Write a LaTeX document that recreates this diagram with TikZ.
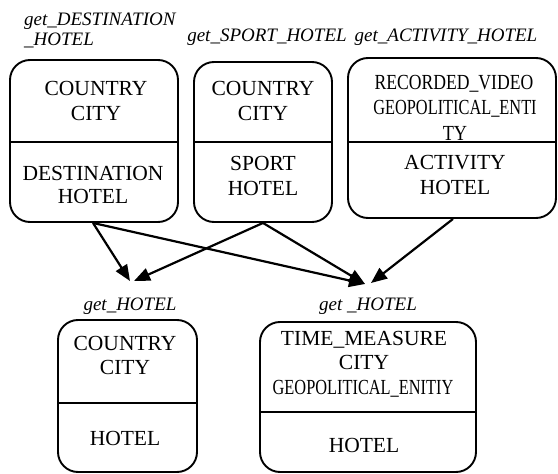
\documentclass[tikz,border=0pt]{standalone}
\usepackage{fontspec}
\usepackage{graphicx}
\setmainfont{Liberation Serif}
\usetikzlibrary{arrows.meta}
\tikzset{
  box/.style={draw, line width=1.9pt, rounded corners=20pt, inner sep=0pt},
  divider/.style={line width=1.9pt},
  txt/.style={anchor=base, inner sep=0pt, font=\fontsize{21.5}{25}\selectfont},
  lbl/.style={anchor=base, inner sep=0pt, font=\fontsize{19}{22}\selectfont\itshape},
  conn/.style={line width=2.2pt, -{Triangle[length=16pt,width=13pt]}}
}
\begin{document}
\begin{tikzpicture}[x=1pt,y=-1pt]
\path[use as bounding box] (0,0) rectangle (558,474);
% boxes
\node[box, minimum width=168pt, minimum height=162pt] (A) at (94,141) {};
\node[box, minimum width=138pt, minimum height=160pt] (B) at (263,142) {};
\node[box, minimum width=208pt, minimum height=160pt] (C) at (452,138) {};
\node[box, minimum width=139pt, minimum height=152pt] (D) at (127.5,396) {};
\node[box, minimum width=216pt, minimum height=150pt] (E) at (368,397) {};
% dividers
\draw[divider] (A.west |- 0,142) -- (A.east |- 0,142);
\draw[divider] (B.west |- 0,142) -- (B.east |- 0,142);
\draw[divider] (C.west |- 0,142) -- (C.east |- 0,142);
\draw[divider] (D.west |- 0,403) -- (D.east |- 0,403);
\draw[divider] (E.west |- 0,412) -- (E.east |- 0,412);
% labels
\node[lbl, anchor=base west] (lA1) at (24,25) {get\_DESTINATION};
\node[lbl, anchor=base west] (lA2) at (24,45) {\_HOTEL};
\node[lbl] (lB) at (267,41) {get\_SPORT\_HOTEL};
\node[lbl] (lC) at (446,41) {get\_ACTIVITY\_HOTEL};
\node[lbl] (lD) at (130,310) {get\_HOTEL};
\node[lbl] (lE) at (368,310) {get \_HOTEL};
% box A text
\node[txt] (a1) at (96,95) {COUNTRY};
\node[txt] (a2) at (96,120) {CITY};
\node[txt] (a3) at (93,180) {DESTINATION};
\node[txt] (a4) at (93,203) {HOTEL};
% box B text
\node[txt] (b1) at (263,95) {COUNTRY};
\node[txt] (b2) at (263,120) {CITY};
\node[txt] (b3) at (263,170) {SPORT};
\node[txt] (b4) at (263,195) {HOTEL};
% box C text
\node[txt] (c1) at (454,89) {\scalebox{0.82}[1]{RECORDED\_VIDEO}};
\node[txt] (c2) at (455,114) {\scalebox{0.76}[1]{GEOPOLITICAL\_ENTI}};
\node[txt] (c3) at (455,140) {\scalebox{0.85}[1]{TY}};
\node[txt] (c4) at (455,169) {ACTIVITY};
\node[txt] (c5) at (455,194) {HOTEL};
% box D text
\node[txt] (d1) at (125,350) {COUNTRY};
\node[txt] (d2) at (125,374) {CITY};
\node[txt] (d3) at (125,445) {HOTEL};
% box E text
\node[txt] (e1) at (364,345) {TIME\_MEASURE};
\node[txt] (e2) at (364,369) {CITY};
\node[txt] (e3) at (363,394) {\scalebox{0.76}[1]{GEOPOLITICAL\_ENITIY}};
\node[txt] (e4) at (364,452) {HOTEL};
% arrow end points
\coordinate (tD1) at (130,281);
\coordinate (tD2) at (134,281);
\coordinate (tE1) at (365,284);
\coordinate (tE2) at (371,283);
% connectors
\draw[conn] (A.south) ++(-1,0) -- (tD1);
\draw[conn] (A.south) ++(-1,0) -- (tE1);
\draw[conn] (B.south) -- (tD2);
\draw[conn] (B.south) -- (tE1);
\draw[conn] (C.south) ++(1,0) -- (tE2);
\end{tikzpicture}
\end{document}
